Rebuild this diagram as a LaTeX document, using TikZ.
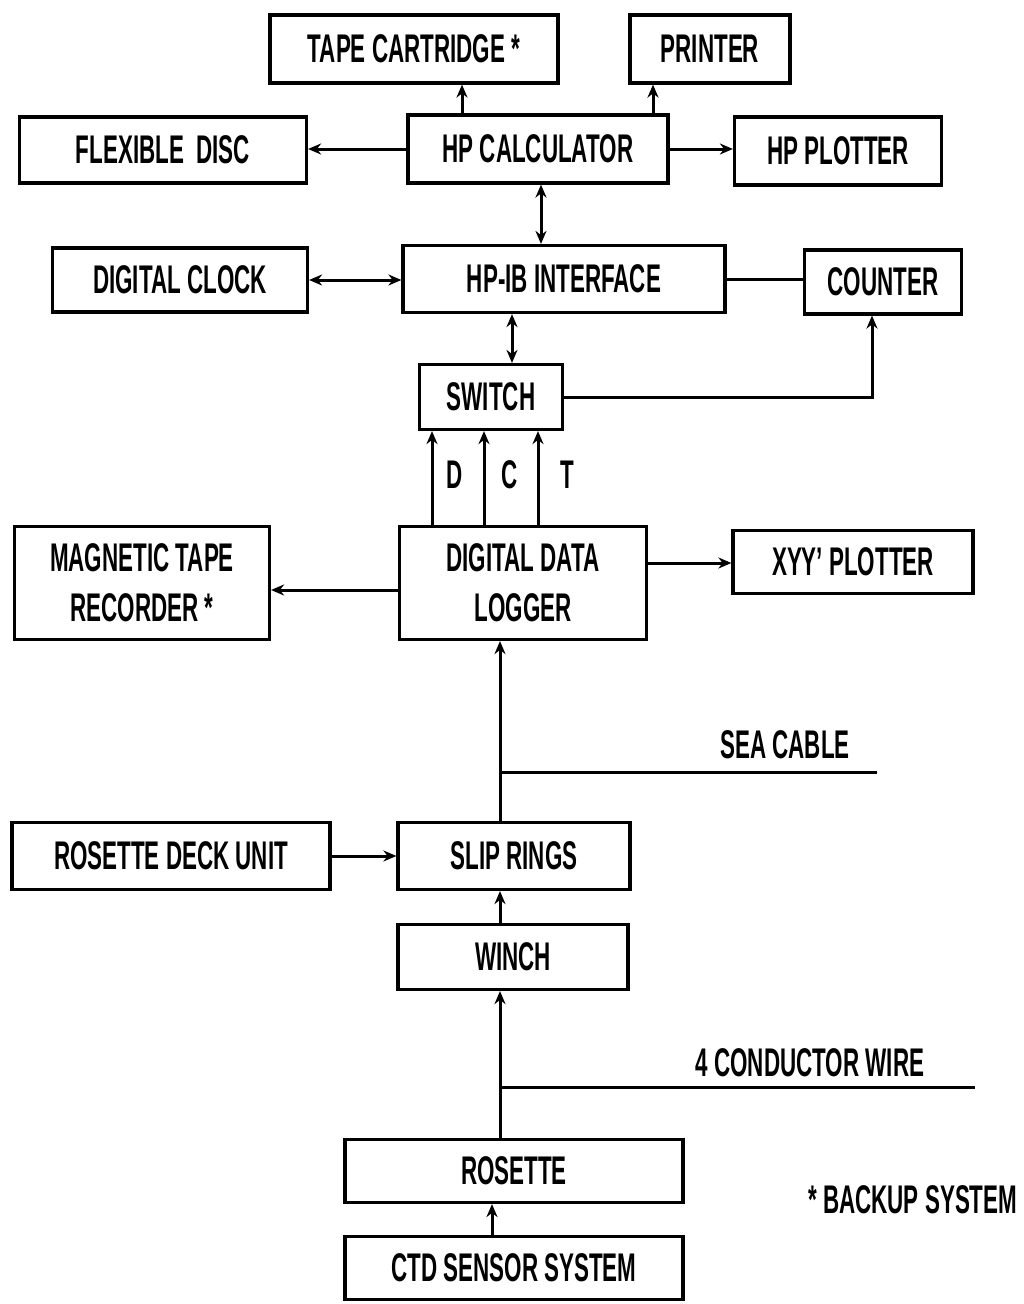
\documentclass[tikz,border=0pt]{standalone}
\usepackage{fontspec}
\setmainfont{Liberation Sans}[FakeStretch=0.56]
\usetikzlibrary{arrows.meta}
\tikzset{
  blk/.style={draw,line width=3.2pt,inner sep=0pt,font=\fontsize{40}{44}\selectfont\bfseries,align=center},
  lbl/.style={font=\fontsize{40}{44}\selectfont\bfseries,inner sep=0pt},
  con/.style={line width=3pt},
}
\begin{document}
\begin{tikzpicture}[x=1pt,y=-1pt,>={Stealth[length=13pt,width=11pt]}]
  \useasboundingbox (0,0) rectangle (1023,1304);
  % boxes
  \node[blk,minimum width=288pt,minimum height=68pt] (tape) at (414,49) {TAPE CARTRIDGE *};
  \node[blk,minimum width=160pt,minimum height=68pt] (printer) at (710,49) {PRINTER};
  \node[blk,minimum width=287pt,minimum height=66pt] (flex) at (163,150) {FLEXIBLE\ \ DISC};
  \node[blk,minimum width=260pt,minimum height=68pt] (calc) at (538,149) {HP CALCULATOR};
  \node[blk,minimum width=207pt,minimum height=68pt] (hpplot) at (838,151) {HP PLOTTER};
  \node[blk,minimum width=255pt,minimum height=64pt] (clock) at (180,280) {DIGITAL CLOCK};
  \node[blk,minimum width=322pt,minimum height=67pt] (hpib) at (564,279) {HP-IB INTERFACE};
  \node[blk,minimum width=157pt,minimum height=64pt] (counter) at (883,282) {COUNTER};
  \node[blk,minimum width=143pt,minimum height=65pt] (switch) at (491,397) {SWITCH};
  \node[blk,minimum width=247pt,minimum height=113pt] (logger) at (523,583) {DIGITAL DATA\\[6pt]LOGGER};
  \node[blk,minimum width=255pt,minimum height=113pt] (magtape) at (142,583) {MAGNETIC TAPE\\[6pt]RECORDER *};
  \node[blk,minimum width=240pt,minimum height=63pt] (xyy) at (853,562) {XYY' PLOTTER};
  \node[blk,minimum width=318pt,minimum height=67pt] (deck) at (171,856) {ROSETTE DECK UNIT};
  \node[blk,minimum width=232pt,minimum height=67pt] (slip) at (514,856) {SLIP RINGS};
  \node[blk,minimum width=230pt,minimum height=65pt] (winch) at (513,957) {WINCH};
  \node[blk,minimum width=338pt,minimum height=63pt] (rosette) at (514,1171) {ROSETTE};
  \node[blk,minimum width=338pt,minimum height=63pt] (ctd) at (514,1268) {CTD SENSOR SYSTEM};
  % labels
  \node[lbl] (d) at (455,475) {D};
  \node[lbl] (c) at (510,475) {C};
  \node[lbl] (t) at (567,475) {T};
  \node[lbl] (sea) at (785,745) {SEA CABLE};
  \node[lbl] (wire) at (810,1063) {4 CONDUCTOR WIRE};
  \node[lbl,anchor=west] (backup) at (808,1200) {* BACKUP SYSTEM};
  % connectors
  \draw[con,->] (calc.north -| 462,0) -- (tape.south -| 462,0);
  \draw[con,->] (calc.north -| 653,0) -- (printer.south -| 653,0);
  \draw[con,->] (calc.west) -- (calc.west -| flex.east);
  \draw[con,->] (calc.east) -- (calc.east -| hpplot.west);
  \draw[con,<->] (calc.south -| 541,0) -- (hpib.north -| 541,0);
  \draw[con,<->] (clock.east) -- (clock.east -| hpib.west);
  \draw[con] (hpib.east) -- (hpib.east -| counter.west);
  \draw[con,<->] (hpib.south -| 512,0) -- (switch.north -| 512,0);
  \draw[con,->] (switch.east) -| (counter.south -| 872,0);
  \foreach \xx in {432,484,538}
    \draw[con,->] (logger.north -| \xx,0) -- (switch.south -| \xx,0);
  \draw[con,->] (logger.west |- 0,590) -- (magtape.east |- 0,590);
  \draw[con,->] (logger.east |- 0,563) -- (xyy.west |- 0,563);
  \coordinate (seaj) at (500,772);
  \coordinate (seaend) at (877,772);
  \draw[con,->] (slip.north -| seaj) -- (logger.south -| seaj);
  \draw[con] (seaj) -- (seaend);
  \draw[con,->] (deck.east) -- (deck.east -| slip.west);
  \draw[con,->] (winch.north -| seaj) -- (slip.south -| seaj);
  \coordinate (wirej) at (500,1087);
  \coordinate (wireend) at (975,1087);
  \draw[con,->] (rosette.north -| wirej) -- (winch.south -| wirej);
  \draw[con] (wirej) -- (wireend);
  \draw[con,->] (ctd.north -| 492,0) -- (rosette.south -| 492,0);
\end{tikzpicture}
\end{document}
